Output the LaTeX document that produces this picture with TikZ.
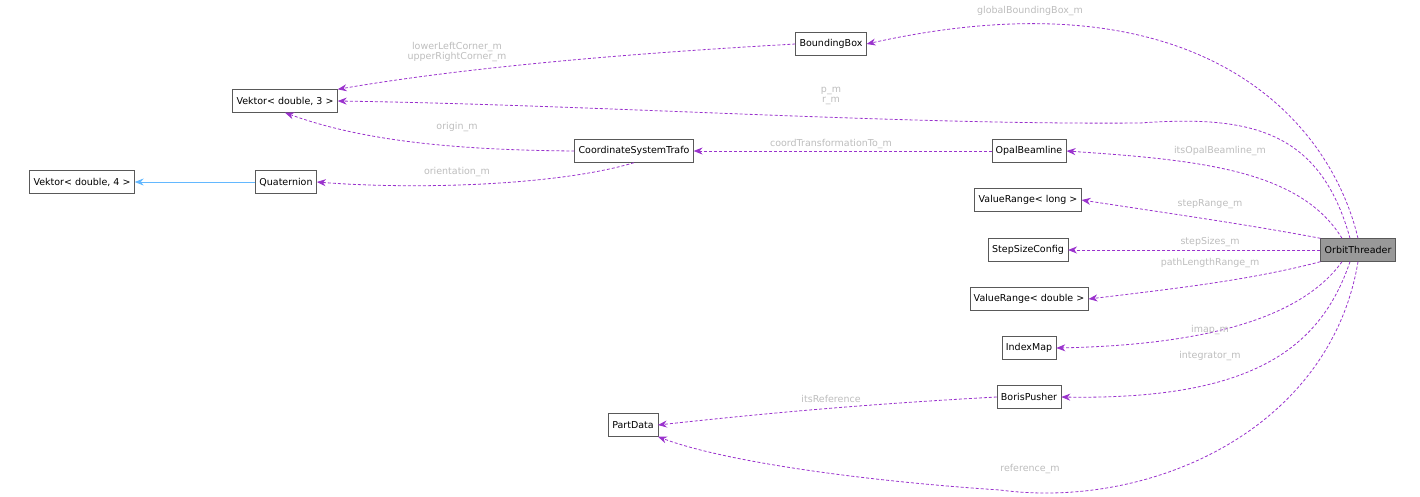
\documentclass[tikz,border=0pt]{standalone}
\usepackage{fontspec}
\setmainfont{DejaVu Sans}
\usetikzlibrary{arrows.meta}
\definecolor{edgecol}{HTML}{9A32CD}
\definecolor{inhcol}{HTML}{63B8FF}
\definecolor{labcol}{HTML}{BDBDBD}
\tikzset{
  cls/.style={draw=black!65, fill=white, inner xsep=4pt, minimum height=23pt, font=\fontsize{9.5}{11}\selectfont},
  usage/.style={edgecol, densely dashed, line width=0.8pt, -{Stealth[length=9pt,width=7pt]}},
  inherit/.style={inhcol, line width=0.8pt, -{Stealth[length=9pt,width=7pt]}},
  lab/.style={labcol, font=\fontsize{9.5}{10.5}\selectfont, align=center}
}
\begin{document}
\begin{tikzpicture}[x=1pt,y=-1pt]
\useasboundingbox (0,0) rectangle (1420,496);
% classes
\node[cls] (bbox) at (831,44) {BoundingBox};
\node[cls] (vek3) at (285,101) {Vektor< double, 3 >};
\node[cls] (vek4) at (82,182) {Vektor< double, 4 >};
\node[cls] (quat) at (286,182) {Quaternion};
\node[cls] (cst) at (634,151) {CoordinateSystemTrafo};
\node[cls] (opal) at (1029,151) {OpalBeamline};
\node[cls] (vrlong) at (1028,200) {ValueRange< long >};
\node[cls] (ssc) at (1028,250) {StepSizeConfig};
\node[cls] (vrdbl) at (1029,299) {ValueRange< double >};
\node[cls] (imap) at (1029,348) {IndexMap};
\node[cls] (boris) at (1029,397) {BorisPusher};
\node[cls] (part) at (633,425) {PartData};
\node[cls, fill=black!40] (orbit) at (1358,250) {OrbitThreader};
% connectors
\draw[usage] (orbit.north) .. controls (1330,120) and (1200,-30) .. (bbox.east);
\node[lab] at (1030,11) {globalBoundingBox\_m};
\draw[usage] (bbox.west) .. controls (600,55) and (450,70) .. (vek3.north east);
\node[lab] at (457,52) {lowerLeftCorner\_m\\upperRightCorner\_m};
\draw[usage] ([xshift=-8pt]orbit.north) .. controls (1320,130) and (1250,115) .. (1140,123) .. controls (900,125) and (600,105) .. (vek3.east);
\node[lab] at (831,96) {p\_m\\r\_m};
\draw[usage] (cst.west) .. controls (450,150) and (360,140) .. (vek3.south);
\node[lab] at (457,127) {origin\_m};
\draw[usage] (cst.south) .. controls (560,185) and (420,190) .. (quat.east);
\node[lab] at (457,172) {orientation\_m};
\draw[inherit] (quat.west) -- (vek4.east);
\draw[usage] (opal.west) -- (cst.east);
\node[lab] at (831,144) {coordTransformationTo\_m};
\draw[usage] ([xshift=-16pt]orbit.north) .. controls (1300,170) and (1200,160) .. (opal.east);
\node[lab] at (1220,151) {itsOpalBeamline\_m};
\draw[usage] (orbit.north west) .. controls (1250,225) and (1180,215) .. (vrlong.east);
\node[lab] at (1210,204) {stepRange\_m};
\draw[usage] (orbit.west) -- (ssc.east);
\node[lab] at (1210,242) {stepSizes\_m};
\draw[usage] (orbit.south west) .. controls (1250,280) and (1180,288) .. (vrdbl.east);
\node[lab] at (1210,263) {pathLengthRange\_m};
\draw[usage] ([xshift=-16pt]orbit.south) .. controls (1300,320) and (1200,345) .. (imap.east);
\node[lab] at (1210,330) {imap\_m};
\draw[usage] ([xshift=-8pt]orbit.south) .. controls (1320,350) and (1250,400) .. (boris.east);
\node[lab] at (1210,356) {integrator\_m};
\draw[usage] (boris.west) .. controls (850,405) and (750,415) .. (part.east);
\node[lab] at (831,399) {itsReference};
\draw[usage] (orbit.south) .. controls (1330,430) and (1150,510) .. (1000,490) .. controls (850,480) and (720,460) .. (part.south east);
\node[lab] at (1030,469) {reference\_m};
\end{tikzpicture}
\end{document}
